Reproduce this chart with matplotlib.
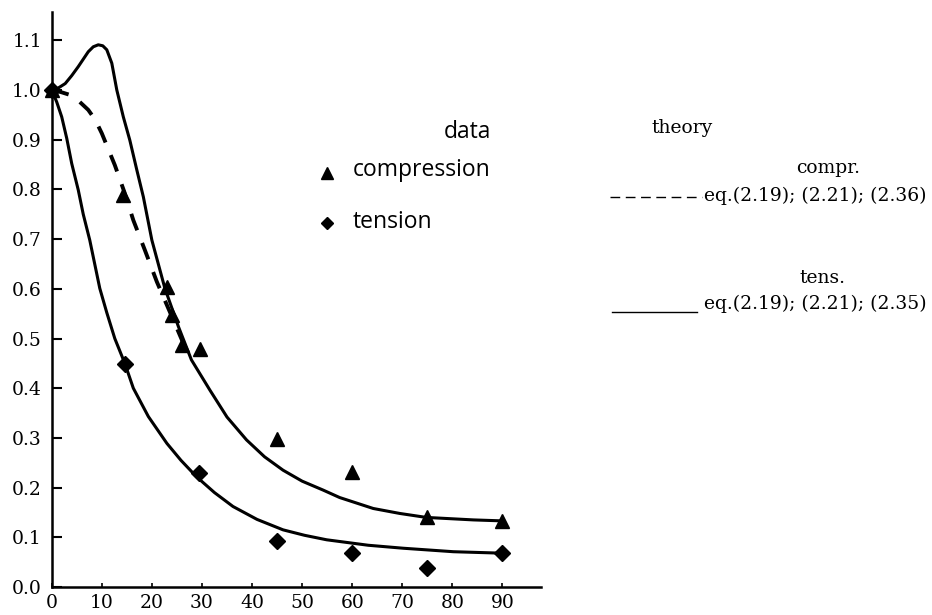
import matplotlib
matplotlib.use("Agg")
import matplotlib.pyplot as plt
from matplotlib.lines import Line2D

# ---- data ----
comp_x = [0, 14.3, 23.0, 24.0, 26.0, 29.6, 44.9, 60.0, 75.0, 90.0]
comp_y = [1.0, 0.789, 0.604, 0.547, 0.487, 0.478, 0.297, 0.231, 0.140, 0.132]

tens_x = [0, 14.6, 29.5, 44.9, 60.0, 75.0, 90.0]
tens_y = [1.0, 0.449, 0.230, 0.0925, 0.068, 0.039, 0.068]

# solid theory curve (compression, with overshoot)
th_c_x = [0, 1.3, 2.7, 4.0, 5.3, 6.3, 7.3, 8.3, 9.3, 10.2, 11.0, 12.0, 13.0,
          14.3, 15.6, 17.0, 18.3, 20.0, 22.6, 25.3, 27.9, 31.6, 35.0, 38.9,
          42.5, 46.2, 50.0, 54.2, 57.5, 64.2, 69.5, 74.8, 84.2, 90.1]
th_c_y = [1.0, 1.004, 1.013, 1.029, 1.047, 1.062, 1.077, 1.087, 1.091, 1.089,
          1.081, 1.054, 1.0, 0.946, 0.899, 0.839, 0.785, 0.698, 0.601, 0.524,
          0.457, 0.396, 0.342, 0.296, 0.262, 0.235, 0.213, 0.195, 0.180,
          0.158, 0.148, 0.140, 0.135, 0.133]

# dashed theory curve (compression, eq. 2.36)
th_d_x = [0, 1.8, 3.7, 5.5, 7.3, 8.7, 10.0, 12.6, 14.5, 16.3, 18.6, 21.0,
          24.0, 26.3]
th_d_y = [1.0, 0.996, 0.990, 0.977, 0.960, 0.940, 0.913, 0.849, 0.795, 0.738,
          0.678, 0.614, 0.544, 0.490]

# solid theory curve (tension)
th_t_x = [0, 1.0, 2.0, 3.0, 4.0, 5.3, 6.3, 7.6, 9.6, 11.0, 12.6, 14.6, 16.3,
          19.3, 23.0, 25.8, 28.9, 32.5, 36.2, 41.0, 46.2, 50.5, 54.9, 63.2,
          70.2, 80.2, 90.1]
th_t_y = [1.0, 0.976, 0.946, 0.903, 0.852, 0.799, 0.750, 0.698, 0.601, 0.552,
          0.500, 0.450, 0.400, 0.343, 0.289, 0.255, 0.222, 0.190, 0.162,
          0.136, 0.115, 0.104, 0.095, 0.084, 0.078, 0.071, 0.068]

xticks = [0, 10, 20, 30, 40, 50, 60, 70, 80, 90]
yticks = [0.0, 0.1, 0.2, 0.3, 0.4, 0.5, 0.6, 0.7, 0.8, 0.9, 1.0, 1.1]

# ---- figure ----
W, H = 932, 615
fig = plt.figure(figsize=(W / 100, H / 100), dpi=100)
ax = fig.add_axes([51.7 / W, (H - 587) / H, (541 - 51.7) / W, (587 - 12) / H])

serif = "DejaVu Serif"
sans = "Open Sans"

ax.plot(th_c_x, th_c_y, color="black", lw=2.2, solid_capstyle="round",
        solid_joinstyle="round")
ax.plot(th_t_x, th_t_y, color="black", lw=2.2, solid_capstyle="round",
        solid_joinstyle="round")
ax.plot(th_d_x, th_d_y, color="black", lw=2.8, dashes=(4.5, 3.5))

ax.plot(comp_x, comp_y, ls="none", marker="^", ms=10, color="black", clip_on=False)
ax.plot(tens_x, tens_y, ls="none", marker="D", ms=8.5, color="black", clip_on=False)

ax.set_xlim(0, 97.7)
ax.set_ylim(0, 1.157)
for s in ("top", "right"):
    ax.spines[s].set_visible(False)
for s in ("left", "bottom"):
    ax.spines[s].set_linewidth(1.8)

ax.set_xticks(xticks)
ax.set_xticklabels([str(v) for v in xticks], fontfamily=serif, fontsize=13.5)
ax.set_yticks(yticks)
ax.set_yticklabels([f"{v:.1f}" for v in yticks], fontfamily=serif, fontsize=13.5)
ax.tick_params(axis="y", direction="in", length=7, width=1.5, pad=7)
ax.tick_params(axis="x", direction="in", length=3, width=1.2, pad=5)


def fx(px):
    return px / W


def fy(py):
    return 1 - py / H


# data legend
fig.text(fx(467), fy(132), "data", ha="center", va="center", fontfamily=sans,
         fontsize=16.5, fontweight="medium")
fig.text(fx(353), fy(170), "compression", ha="left", va="center",
         fontfamily=sans, fontsize=16.5, fontweight="medium")
fig.text(fx(353), fy(222), "tension", ha="left", va="center", fontfamily=sans,
         fontsize=16.5, fontweight="medium")
fig.add_artist(Line2D([fx(327)], [fy(173)], transform=fig.transFigure,
                      marker="^", ms=8, color="black", ls="none"))
fig.add_artist(Line2D([fx(327)], [fy(223)], transform=fig.transFigure,
                      marker="D", ms=6.5, color="black", ls="none"))

# theory legend
fig.text(fx(682), fy(128), "theory", ha="center", va="center", fontfamily=serif,
         fontsize=13.5)
fig.text(fx(828), fy(168), "compr.", ha="center", va="center", fontfamily=serif,
         fontsize=13.5)
fig.add_artist(Line2D([fx(610), fx(702)], [fy(197), fy(197)],
                      transform=fig.transFigure, color="black", lw=1.0,
                      dashes=(7, 4)))
fig.text(fx(704), fy(196), "eq.(2.19); (2.21); (2.36)", ha="left", va="center",
         fontfamily=serif, fontsize=13.5)
fig.text(fx(822), fy(278), "tens.", ha="center", va="center", fontfamily=serif,
         fontsize=13.5)
fig.add_artist(Line2D([fx(612), fx(697)], [fy(312), fy(312)],
                      transform=fig.transFigure, color="black", lw=1.0))
fig.text(fx(927), fy(304), "eq.(2.19); (2.21); (2.35)", ha="right", va="center",
         fontfamily=serif, fontsize=13.5)

fig.savefig("out.png", dpi=100)
